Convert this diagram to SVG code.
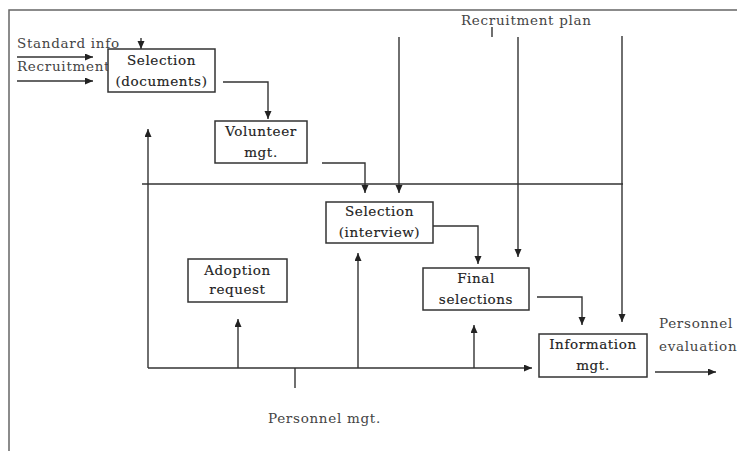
<svg xmlns="http://www.w3.org/2000/svg" width="737" height="451" viewBox="0 0 737 451">
<defs>
<marker id="ah" markerUnits="userSpaceOnUse" markerWidth="9" markerHeight="8" refX="8" refY="3.5" orient="auto">
<path d="M0,0 L8,3.5 L0,7 z" fill="#222"/>
</marker>
<style>
.ln{fill:none;stroke:#333;stroke-width:1.4}
.ar{fill:none;stroke:#333;stroke-width:1.4;marker-end:url(#ah)}
.box{fill:#fff;stroke:#333;stroke-width:1.5}
.bt{font-family:"DejaVu Serif","Liberation Serif",serif;font-size:13.5px;letter-spacing:0.6px;fill:#222;stroke:#222;stroke-width:0.15;text-anchor:middle}
.lt{font-family:"DejaVu Serif","Liberation Serif",serif;font-size:13.5px;letter-spacing:0.7px;fill:#444}
.frame{fill:none;stroke:#666;stroke-width:1.5}
</style>
</defs>
<rect width="737" height="451" fill="#fff"/>
<path class="frame" d="M9,451 L9,10 L737,10"/>
<g id="labels">
<text class="lt" x="17" y="48">Standard info</text>
<text class="lt" x="17" y="71">Recruitment</text>
<text class="lt" x="461" y="25">Recruitment plan</text>
<text class="lt" x="268" y="423">Personnel mgt.</text>
<text class="lt" x="659" y="328">Personnel</text>
<text class="lt" x="659" y="351">evaluation</text>
</g>
<g id="connectors">
<line class="ar" x1="17" y1="57" x2="93" y2="57"/>
<line class="ar" x1="17" y1="81" x2="93" y2="81"/>
<line class="ar" x1="141" y1="38" x2="141" y2="49"/>
<path class="ar" d="M223,82 H268 V119"/>
<line class="ar" x1="148" y1="368" x2="148" y2="129"/>
<line class="ln" x1="142" y1="184" x2="623" y2="184"/>
<path class="ar" d="M322,163 H365 V193"/>
<line class="ar" x1="399" y1="37" x2="399" y2="193"/>
<line class="ln" x1="492" y1="27" x2="492" y2="37"/>
<line class="ar" x1="518" y1="37" x2="518" y2="257"/>
<line class="ar" x1="622" y1="36" x2="622" y2="322"/>
<path class="ar" d="M433,226 H478 V264"/>
<line class="ar" x1="358" y1="368" x2="358" y2="253"/>
<line class="ar" x1="238" y1="368" x2="238" y2="319"/>
<line class="ar" x1="474" y1="368" x2="474" y2="325"/>
<line class="ar" x1="148" y1="368" x2="532" y2="368"/>
<line class="ln" x1="295" y1="368" x2="295" y2="388"/>
<path class="ar" d="M537,297 H582 V325"/>
<line class="ar" x1="655" y1="372" x2="716" y2="372"/>
</g>
<g id="sel-doc">
<rect class="box" x="108" y="49" width="107" height="43"/>
<text class="bt" x="161.5" y="65">Selection</text>
<text class="bt" x="161.5" y="86">(documents)</text>
</g>
<g id="volunteer">
<rect class="box" x="215" y="121" width="92" height="42"/>
<text class="bt" x="261" y="136">Volunteer</text>
<text class="bt" x="261" y="157">mgt.</text>
</g>
<g id="sel-int">
<rect class="box" x="326" y="202" width="107" height="41"/>
<text class="bt" x="379.5" y="216">Selection</text>
<text class="bt" x="379.5" y="237">(interview)</text>
</g>
<g id="adoption">
<rect class="box" x="188" y="259" width="99" height="43"/>
<text class="bt" x="237.5" y="275">Adoption</text>
<text class="bt" x="237.5" y="294">request</text>
</g>
<g id="final">
<rect class="box" x="423" y="268" width="106" height="42"/>
<text class="bt" x="476" y="283">Final</text>
<text class="bt" x="476" y="304">selections</text>
</g>
<g id="info">
<rect class="box" x="539" y="334" width="108" height="43"/>
<text class="bt" x="593" y="349">Information</text>
<text class="bt" x="593" y="370">mgt.</text>
</g>
</svg>
